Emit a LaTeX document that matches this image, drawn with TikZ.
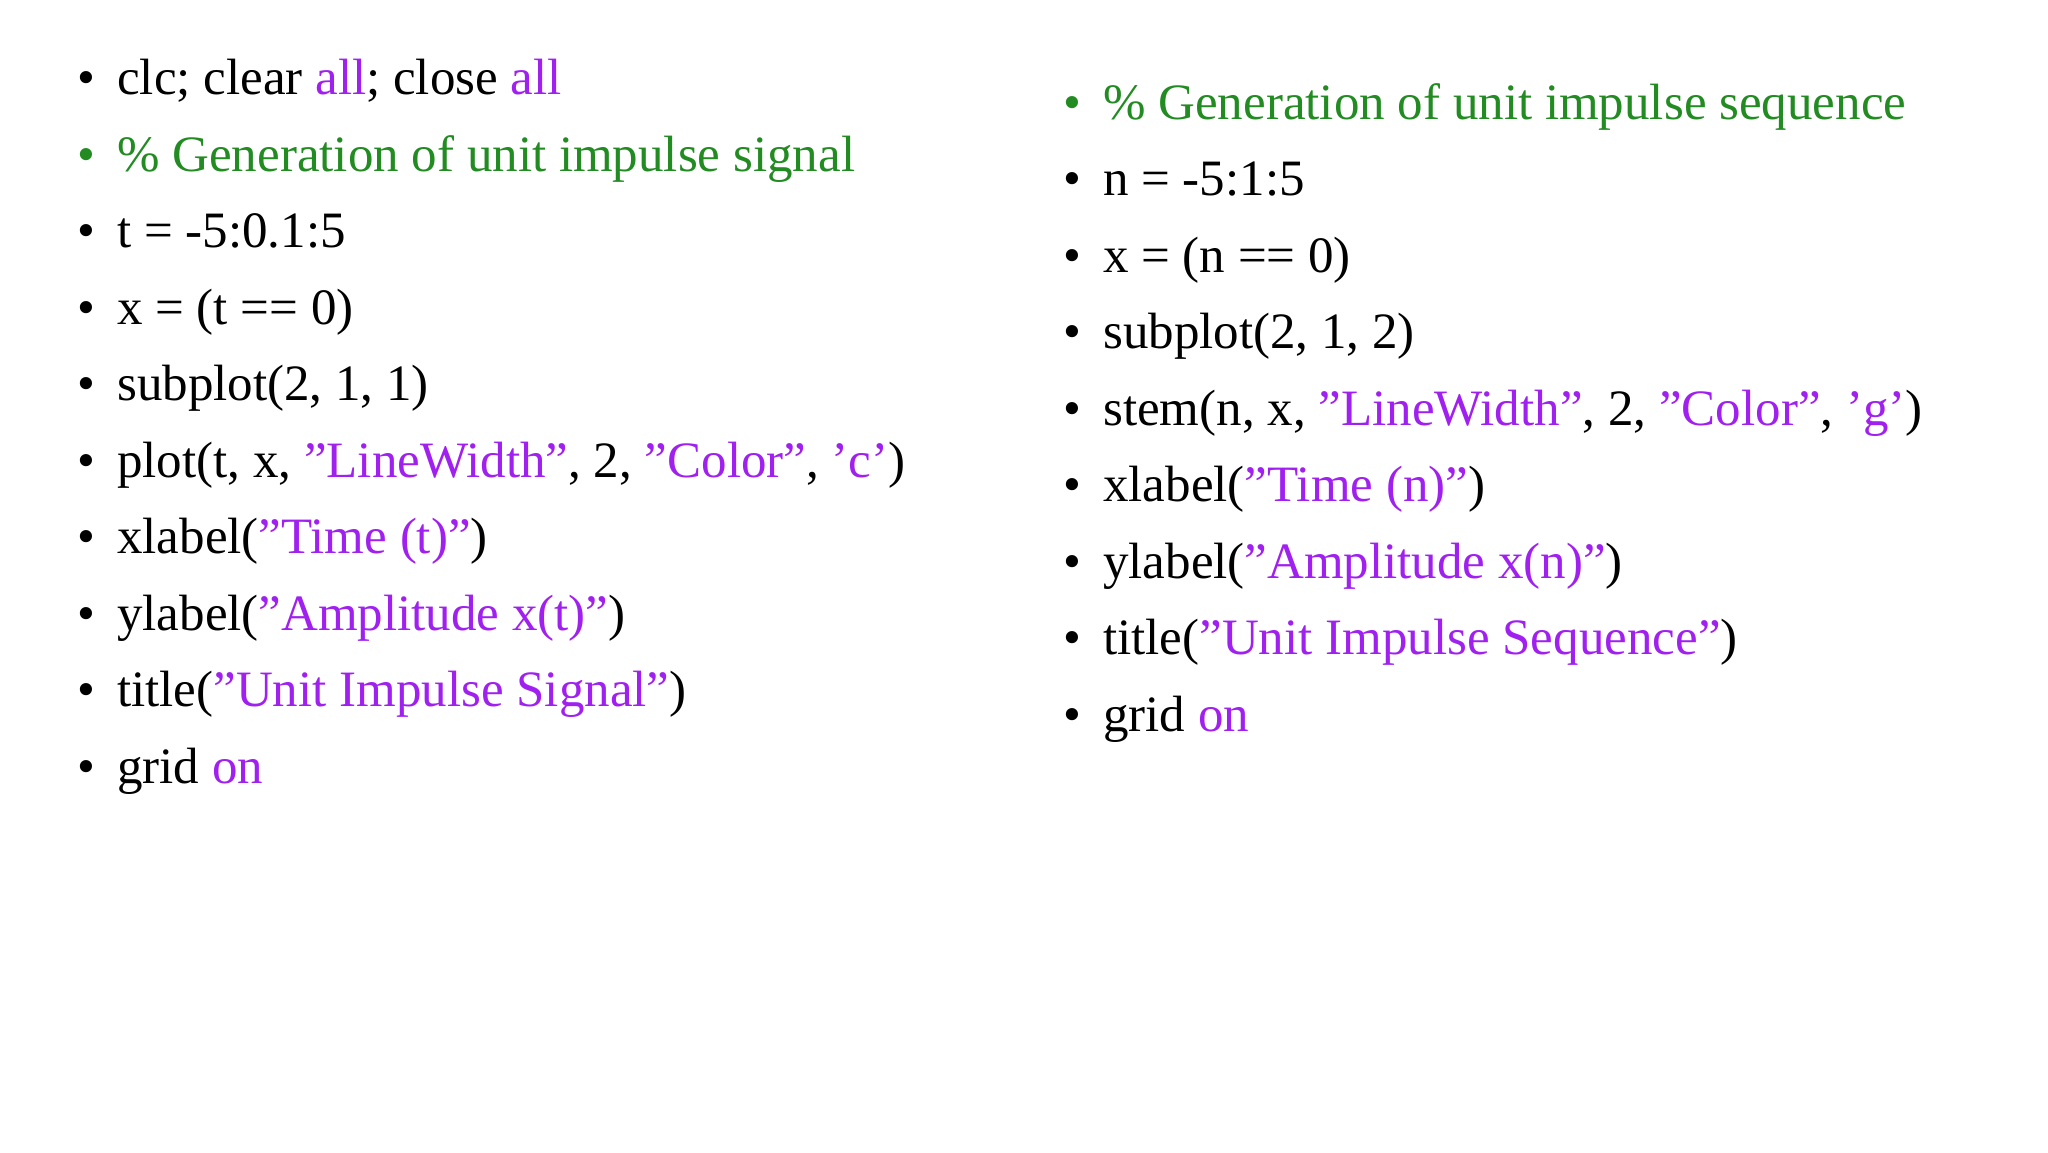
\documentclass[tikz,border=0pt]{standalone}
\usepackage{fontspec}
\setmainfont{Liberation Serif}
\definecolor{kw}{RGB}{160,32,240}
\definecolor{cm}{RGB}{34,139,34}
\newcommand{\K}[1]{\textcolor{kw}{#1}}
\newcommand{\Q}{\symbol{34}}
\newcommand{\A}{\symbol{39}}
\tikzset{ln/.style={anchor=base west,inner sep=0pt,font=\fontsize{51}{60}\selectfont},
 bl/.style={anchor=base,inner sep=0pt,font=\fontsize{51}{60}\selectfont}}
\begin{document}
\begin{tikzpicture}[x=1pt,y=-1pt]
\useasboundingbox (0,0) rectangle (2048,1152);
\foreach \t [count=\i] in {{clc; clear \K{all}; close \K{all}},{\textcolor{cm}{\% Generation of unit impulse signal}},{t = -5:0.1:5},{x = (t == 0)},{subplot(2, 1, 1)},{plot(t, x, \K{\Q LineWidth\Q}, 2, \K{\Q Color\Q}, \K{\A c\A})},{xlabel(\K{\Q Time (t)\Q})},{ylabel(\K{\Q Amplitude x(t)\Q})},{title(\K{\Q Unit Impulse Signal\Q})},{grid \K{on}}}{
 \node[bl] (lb\i) at (86,{94.7+76.5*(\i-1)}) {\ifnum\i=2 \textcolor{cm}{•}\else •\fi};
 \node[ln] (lt\i) at (117,{94.7+76.5*(\i-1)}) {\t};
}
\foreach \t [count=\i] in {{\textcolor{cm}{\% Generation of unit impulse sequence}},{n = -5:1:5},{x = (n == 0)},{subplot(2, 1, 2)},{stem(n, x, \K{\Q LineWidth\Q}, 2, \K{\Q Color\Q}, \K{\A g\A})},{xlabel(\K{\Q Time (n)\Q})},{ylabel(\K{\Q Amplitude x(n)\Q})},{title(\K{\Q Unit Impulse Sequence\Q})},{grid \K{on}}}{
 \node[bl] (rb\i) at (1072,{119.4+76.5*(\i-1)}) {\ifnum\i=1 \textcolor{cm}{•}\else •\fi};
 \node[ln] (rt\i) at (1103,{119.4+76.5*(\i-1)}) {\t};
}
\end{tikzpicture}
\end{document}
